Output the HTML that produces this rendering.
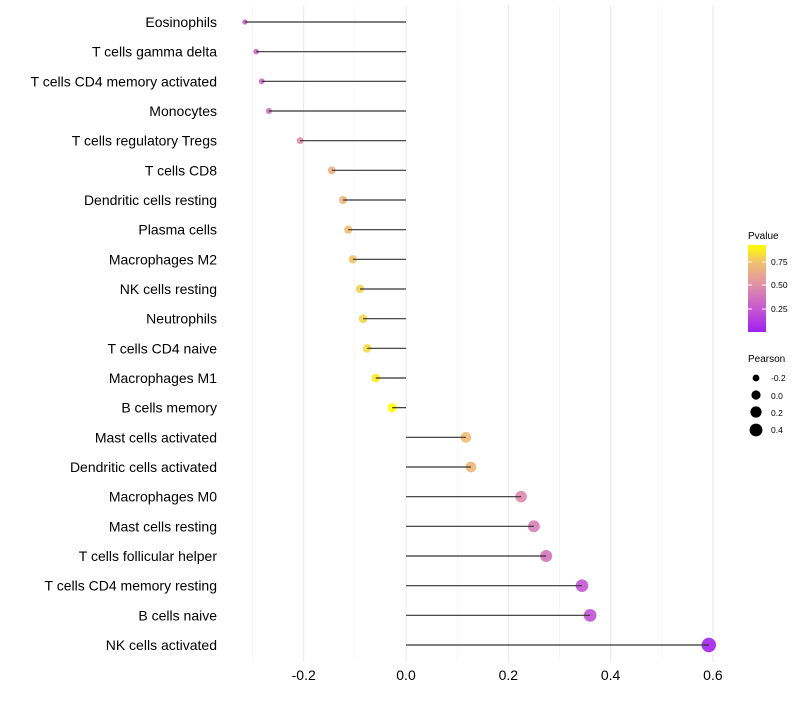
<!DOCTYPE html>
<html><head><meta charset="utf-8"><style>
body{margin:0;background:#fff}
svg{font-family:"Liberation Sans",sans-serif}
</style></head><body>
<svg id="chart" width="800" height="700">
<defs>
<linearGradient id="pg" x1="0" y1="1" x2="0" y2="0">
<stop offset="0" stop-color="#A020F0"/>
<stop offset="0.27" stop-color="#C558D0"/>
<stop offset="0.54" stop-color="#E090A8"/>
<stop offset="0.8" stop-color="#F2C070"/>
<stop offset="1" stop-color="#FFFF00"/>
</linearGradient>
</defs>
<g id="grid"></g><g id="points"></g><g id="stems"></g><g id="labels"></g>
<g>
<text x="748" y="239" font-size="10" fill="#000">Pvalue</text>
<rect x="748" y="245" width="18" height="87" fill="url(#pg)"/>
<line x1="748" x2="752" y1="262" y2="262" stroke="#fff"/><line x1="762" x2="766" y1="262" y2="262" stroke="#fff"/>
<line x1="748" x2="752" y1="285" y2="285" stroke="#fff"/><line x1="762" x2="766" y1="285" y2="285" stroke="#fff"/>
<line x1="748" x2="752" y1="309" y2="309" stroke="#fff"/><line x1="762" x2="766" y1="309" y2="309" stroke="#fff"/>
<text x="771" y="265" font-size="8.5">0.75</text>
<text x="771" y="288" font-size="8.5">0.50</text>
<text x="771" y="312" font-size="8.5">0.25</text>
</g>
<g>
<text x="748" y="362" font-size="10">Pearson</text>
<circle cx="756" cy="378" r="3.4" fill="#000"/><text x="771" y="381" font-size="8.5">-0.2</text>
<circle cx="756" cy="395" r="4.6" fill="#000"/><text x="771" y="399" font-size="8.5">0.0</text>
<circle cx="756" cy="412" r="5.6" fill="#000"/><text x="771" y="416" font-size="8.5">0.2</text>
<circle cx="756" cy="430" r="6.4" fill="#000"/><text x="771" y="433" font-size="8.5">0.4</text>
</g>
</svg>
<script>
const cells=["Eosinophils","T cells gamma delta","T cells CD4 memory activated","Monocytes","T cells regulatory  Tregs","T cells CD8","Dendritic cells resting","Plasma cells","Macrophages M2","NK cells resting","Neutrophils","T cells CD4 naive","Macrophages M1","B cells memory","Mast cells activated","Dendritic cells activated","Macrophages M0","Mast cells resting","T cells follicular helper","T cells CD4 memory resting","B cells naive","NK cells activated"];
const pearson=[-0.315,-0.293,-0.282,-0.268,-0.207,-0.145,-0.123,-0.113,-0.104,-0.09,-0.084,-0.076,-0.059,-0.027,0.117,0.127,0.225,0.25,0.274,0.344,0.36,0.592];
const pvalue=[0.3,0.3,0.32,0.35,0.5,0.66,0.7,0.74,0.76,0.8,0.81,0.83,0.87,0.93,0.72,0.7,0.47,0.42,0.38,0.24,0.22,0.02];
const xTicks=[-0.2,0.0,0.2,0.4,0.6];
const NS="http://www.w3.org/2000/svg";
const x=v=>406+v*511.5;
const y=i=>22+i*(623/21);
const rad=v=>Math.sqrt(Math.max(4,22.5+50*v));
function col(p){
 const stops=[[0,[160,32,240]],[0.25,[197,88,208]],[0.5,[224,144,168]],[0.75,[242,192,112]],[0.93,[255,255,0]]];
 p=Math.max(0,Math.min(0.93,p));
 for(let k=0;k<stops.length-1;k++){const a=stops[k],b=stops[k+1];if(p<=b[0]){const t=(p-a[0])/(b[0]-a[0]);return"rgb("+a[1].map((c,j)=>Math.round(c+(b[1][j]-c)*t)).join(",")+")";}}
 return "rgb(255,255,0)";
}
function mk(t,a,parent){const e=document.createElementNS(NS,t);for(const k in a)e.setAttribute(k,a[k]);parent.appendChild(e);return e;}
const grid=document.getElementById('grid'),points=document.getElementById('points'),stems=document.getElementById('stems'),labels=document.getElementById('labels');
for(let v=-0.3;v<=0.61;v+=0.1){const g=mk('line',{x1:x(v),x2:x(v),y1:5,y2:662,stroke:'#f0f0f0','stroke-width':0.6},grid);}
xTicks.forEach(v=>{const g=mk('line',{x1:x(v),x2:x(v),y1:5,y2:662,stroke:'#e8e8e8','stroke-width':1},grid);
 const t=mk('text',{x:x(v),y:680,'font-size':14,'text-anchor':'middle',fill:'#000'},labels);t.textContent=v.toFixed(1);});
cells.forEach((c,i)=>{
 const t=mk('text',{x:217,y:y(i)+5,'font-size':14,'text-anchor':'end',fill:'#000'},labels);t.textContent=c;
 
 const p=mk('circle',{cx:x(pearson[i]),cy:y(i),r:rad(pearson[i]),fill:col(pvalue[i]),'fill-opacity':0.9},points);
 
 const l=mk('line',{x1:x(0),x2:x(pearson[i]),y1:y(i),y2:y(i),stroke:'#333','stroke-width':1.2},stems);
 
});
</script>
</body></html>
